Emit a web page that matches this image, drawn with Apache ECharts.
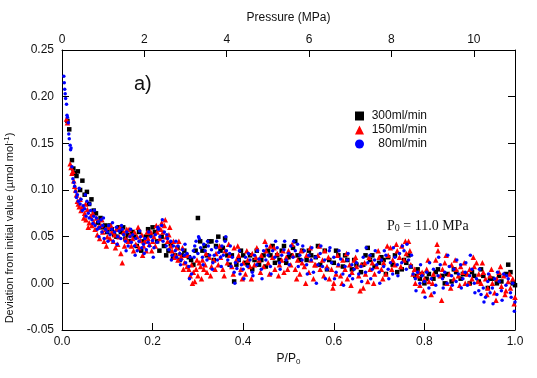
<!DOCTYPE html>
<html><head><meta charset="utf-8">
<script src="https://cdn.jsdelivr.net/npm/echarts@6/dist/echarts.min.js"></script>
<style>html,body{margin:0;padding:0;background:#fff}#c{width:537px;height:378px}</style>
</head><body><div id="c"></div>
<script>
const seriesNames = ['300ml/min', '150ml/min', '80ml/min'];
const xTicks = [0.0, 0.2, 0.4, 0.6, 0.8, 1.0];
const pressureTicks = [0, 2, 4, 6, 8, 10];
const yTicks = [-0.05, 0.00, 0.05, 0.10, 0.15, 0.20, 0.25];

const data300 = [[0.012,0.174],[0.016,0.165],[0.022,0.132],[0.025,0.123],[0.028,0.118],[0.032,0.115],[0.035,0.12],[0.04,0.1],[0.045,0.11],[0.05,0.095],[0.055,0.098],[0.06,0.085],[0.065,0.09],[0.07,0.078],[0.075,0.075],[0.08,0.065],[0.085,0.07],[0.09,0.06],[0.095,0.062],[0.1,0.055],[0.11,0.058],[0.115,0.052],[0.12,0.05],[0.125,0.06],[0.13,0.055],[0.14,0.048],[0.145,0.052],[0.15,0.045],[0.16,0.05],[0.165,0.04],[0.17,0.055],[0.18,0.045],[0.19,0.058],[0.195,0.052],[0.2,0.06],[0.21,0.045],[0.215,0.035],[0.22,0.05],[0.23,0.03],[0.24,0.042],[0.25,0.03],[0.26,0.025],[0.27,0.035],[0.28,0.028],[0.29,0.02],[0.3,0.07],[0.305,0.045],[0.31,0.035],[0.315,0.04],[0.32,0.03],[0.33,0.045],[0.34,0.04],[0.345,0.05],[0.35,0.035],[0.355,0.038],[0.36,0.048],[0.37,0.02],[0.375,0.03],[0.38,0.002],[0.39,0.025],[0.4,0.03],[0.41,0.02],[0.42,0.015],[0.43,0.035],[0.44,0.025],[0.45,0.018],[0.46,0.03],[0.47,0.022],[0.48,0.025],[0.49,0.04],[0.5,0.028],[0.51,0.038],[0.52,0.03],[0.53,0.035],[0.54,0.025],[0.55,0.03],[0.56,0.028],[0.57,0.02],[0.58,0.035],[0.59,0.025],[0.6,0.022],[0.61,0.03],[0.62,0.018],[0.63,0.025],[0.64,0.015],[0.65,0.02],[0.66,0.012],[0.67,0.03],[0.68,0.025],[0.69,0.018],[0.7,0.022],[0.71,0.025],[0.72,0.028],[0.73,0.02],[0.74,0.012],[0.75,0.015],[0.76,0.022],[0.77,0.018],[0.78,0.008],[0.79,0.005],[0.8,0.0],[0.81,0.01],[0.82,0.005],[0.83,0.015],[0.84,0.008],[0.85,0.01],[0.86,0.002],[0.87,0.012],[0.88,0.005],[0.89,0.01],[0.9,0.0],[0.91,0.008],[0.92,0.002],[0.93,0.008],[0.94,-0.005],[0.95,0.005],[0.96,0.0],[0.97,0.002],[0.98,0.01],[0.99,0.012],[1.0,-0.002],
[0.105,0.062],[0.135,0.06],[0.155,0.055],[0.175,0.035],[0.185,0.05],[0.205,0.055],[0.225,0.04],[0.235,0.035],[0.245,0.028],[0.255,0.038],[0.265,0.03],[0.285,0.025],[0.295,0.035],[0.325,0.045],[0.335,0.025],[0.365,0.03],[0.385,0.02],[0.395,0.035],[0.405,0.022],[0.415,0.03],[0.425,0.025],[0.435,0.02],[0.445,0.03],[0.455,0.035],[0.465,0.04],[0.475,0.03],[0.485,0.035],[0.495,0.022],[0.505,0.03],[0.515,0.045],[0.525,0.025],[0.545,0.035],[0.565,0.04],[0.585,0.015],[0.605,0.035],[0.625,0.03],[0.645,0.025],[0.665,0.02],[0.675,0.038],[0.685,0.03],[0.705,0.028],[0.715,0.01],[0.735,0.03],[0.755,0.025],[0.765,0.03],[0.785,0.015],[0.795,0.01],[0.805,0.005],[0.825,0.012],[0.845,0.0],[0.865,0.015],[0.885,0.01],[0.905,0.012],[0.925,0.015],[0.945,0.005],[0.965,0.008],[0.985,0.02],[0.995,0.0]];

const data150 = [[0.01,0.176],[0.012,0.172],[0.018,0.128],[0.02,0.124],[0.022,0.118],[0.024,0.12],[0.026,0.11],[0.028,0.104],[0.03,0.1],[0.032,0.095],[0.034,0.088],[0.036,0.085],[0.038,0.082],[0.04,0.09],[0.042,0.078],[0.045,0.082],[0.048,0.07],[0.05,0.075],[0.053,0.068],[0.056,0.079],[0.06,0.065],[0.063,0.072],[0.066,0.062],[0.07,0.066],[0.073,0.058],[0.076,0.07],[0.08,0.06],[0.083,0.048],[0.086,0.062],[0.09,0.055],[0.093,0.045],[0.096,0.058],[0.1,0.05],[0.103,0.06],[0.106,0.048],[0.11,0.055],[0.113,0.045],[0.116,0.052],[0.12,0.058],[0.123,0.042],[0.126,0.05],[0.13,0.032],[0.133,0.022],[0.136,0.055],[0.14,0.048],[0.143,0.058],[0.146,0.045],[0.15,0.052],[0.153,0.04],[0.156,0.048],[0.16,0.055],[0.163,0.042],[0.166,0.05],[0.17,0.038],[0.173,0.046],[0.176,0.052],[0.18,0.04],[0.183,0.045],[0.186,0.035],[0.19,0.048],[0.193,0.042],[0.196,0.055],[0.2,0.045],[0.203,0.05],[0.206,0.04],[0.21,0.055],[0.213,0.06],[0.216,0.048],[0.22,0.065],[0.223,0.055],[0.226,0.062],[0.23,0.05],[0.233,0.045],[0.236,0.052],[0.24,0.04],[0.243,0.035],[0.246,0.045],[0.25,0.03],[0.253,0.038],[0.256,0.025],[0.26,0.032],[0.263,0.028],[0.266,0.038],[0.27,0.022],[0.273,0.03],[0.276,0.018],[0.28,0.015],[0.283,0.008],[0.286,0.02],[0.29,0.012],[0.293,0.002],[0.296,0.015],[0.3,0.008],[0.303,0.022],[0.306,0.018],[0.31,0.025],[0.313,0.015],[0.316,0.02],[0.32,0.012],[0.325,0.028],[0.33,0.018],[0.335,0.025],[0.34,0.032],[0.345,0.02],[0.35,0.028],[0.355,0.015],[0.36,0.035],[0.365,0.022],[0.37,0.03],[0.375,0.018],[0.38,0.038],[0.385,0.025],[0.39,0.03],[0.395,0.015],[0.4,0.022],[0.405,0.01],[0.41,0.025],[0.415,0.018],[0.42,0.032],[0.425,0.02],[0.43,0.038],[0.435,0.025],[0.44,0.03],[0.445,0.018],[0.45,0.035],[0.455,0.022],[0.46,0.04],[0.465,0.028],[0.47,0.015],[0.475,0.032],[0.48,0.02],[0.485,0.025],[0.49,0.012],[0.495,0.028],[0.5,0.035],[0.505,0.02],[0.51,0.03],[0.515,0.015],[0.52,0.025],[0.525,0.01],[0.53,0.022],[0.535,0.018],[0.54,0.03],[0.545,0.012],[0.55,0.025],[0.555,0.005],[0.56,0.02],[0.565,0.03],[0.57,0.015],[0.575,0.025],[0.58,0.035],[0.585,0.018],[0.59,0.005],[0.595,0.015],[0.6,0.0],[0.605,0.01],[0.61,0.02],[0.615,0.008],[0.62,0.025],[0.625,0.015],[0.63,0.005],[0.635,0.02],[0.64,0.012],[0.645,0.025],[0.65,0.018],[0.655,0.008],[0.66,0.02],[0.665,-0.005],[0.67,0.01],[0.675,0.002],[0.68,0.015],[0.685,0.022],[0.69,0.01],[0.695,0.018],[0.7,0.028],[0.705,0.015],[0.71,0.022],[0.715,0.01],[0.72,0.03],[0.725,0.038],[0.73,0.025],[0.735,0.02],[0.74,0.035],[0.745,0.028],[0.75,0.04],[0.755,0.025],[0.76,0.032],[0.765,0.045],[0.77,0.02],[0.775,0.01],[0.78,0.0],[0.785,0.008],[0.79,-0.002],[0.795,0.012],[0.8,0.005],[0.805,0.015],[0.81,0.002],[0.815,-0.012],[0.82,0.01],[0.825,0.025],[0.83,0.035],[0.835,0.008],[0.84,0.015],[0.845,0.022],[0.85,0.0],[0.855,0.01],[0.86,0.02],[0.865,0.005],[0.87,0.015],[0.875,0.008],[0.88,0.018],[0.885,0.012],[0.89,0.0],[0.895,0.01],[0.9,0.015],[0.905,0.005],[0.91,0.018],[0.915,0.022],[0.92,0.01],[0.925,0.0],[0.93,0.012],[0.935,0.005],[0.94,-0.005],[0.945,0.008],[0.95,0.0],[0.955,-0.01],[0.96,0.005],[0.965,0.012],[0.97,-0.003],[0.975,0.008],[0.98,-0.008],[0.985,0.002],[0.99,-0.005],[0.995,0.005],[1.0,-0.015],
[0.052,0.085],[0.058,0.06],[0.068,0.075],[0.078,0.052],[0.088,0.068],[0.098,0.04],[0.108,0.062],[0.118,0.038],[0.128,0.06],[0.138,0.04],[0.148,0.058],[0.158,0.035],[0.168,0.06],[0.178,0.03],[0.188,0.055],[0.198,0.035],[0.208,0.062],[0.218,0.058],[0.228,0.068],[0.238,0.06],[0.248,0.028],[0.258,0.045],[0.268,0.015],[0.278,0.03],[0.288,0.0],[0.298,0.025],[0.308,0.005],[0.318,0.032],[0.328,0.008],[0.338,0.015],[0.348,0.04],[0.358,0.008],[0.368,0.042],[0.378,0.01],[0.388,0.04],[0.398,0.005],[0.408,0.035],[0.418,0.005],[0.428,0.028],[0.438,0.012],[0.448,0.045],[0.458,0.01],[0.468,0.038],[0.478,0.008],[0.488,0.035],[0.498,0.015],[0.508,0.042],[0.518,0.005],[0.528,0.035],[0.538,0.0],[0.548,0.038],[0.558,0.02],[0.568,0.04],[0.578,0.008],[0.588,0.028],[0.598,-0.005],[0.608,0.03],[0.618,0.0],[0.628,0.032],[0.638,-0.002],[0.648,0.028],[0.658,-0.008],[0.668,0.022],[0.678,0.028],[0.688,0.0],[0.698,0.035],[0.708,0.005],[0.718,0.04],[0.728,0.015],[0.738,0.042],[0.748,0.018],[0.758,0.045],[0.768,0.035],[0.778,0.015],[0.788,0.012],[0.798,-0.008],[0.808,0.025],[0.818,0.0],[0.828,0.042],[0.838,-0.018],[0.848,0.03],[0.858,-0.005],[0.868,0.025],[0.878,-0.002],[0.888,0.022],[0.898,0.0],[0.908,0.028],[0.918,0.002],[0.928,0.022],[0.938,-0.012],[0.948,0.015],[0.958,-0.018],[0.968,0.018],[0.978,-0.012],[0.988,0.01],[0.998,-0.022]];

const data80 = [[0.004,0.222],[0.005,0.215],[0.006,0.208],[0.007,0.203],[0.008,0.198],[0.010,0.192],[0.011,0.180],[0.012,0.178],[0.014,0.172],[0.015,0.16],[0.016,0.155],[0.018,0.148],[0.019,0.143],[0.020,0.145],[0.022,0.125],[0.024,0.112],[0.026,0.108],[0.028,0.104],[0.030,0.098],[0.032,0.092],[0.034,0.095],[0.036,0.088],[0.038,0.102],[0.040,0.085],[0.042,0.09],[0.045,0.078],[0.047,0.083],[0.050,0.08],[0.053,0.072],[0.055,0.088],[0.058,0.075],[0.060,0.07],[0.063,0.078],[0.066,0.068],[0.068,0.064],[0.07,0.072],[0.073,0.062],[0.076,0.07],[0.078,0.058],[0.08,0.066],[0.083,0.06],[0.086,0.068],[0.088,0.055],[0.09,0.062],[0.093,0.048],[0.096,0.058],[0.1,0.055],[0.103,0.062],[0.106,0.052],[0.11,0.058],[0.113,0.045],[0.116,0.055],[0.12,0.06],[0.123,0.05],[0.126,0.056],[0.13,0.048],[0.133,0.058],[0.136,0.052],[0.14,0.045],[0.143,0.055],[0.146,0.04],[0.15,0.05],[0.153,0.044],[0.156,0.052],[0.16,0.04],[0.163,0.048],[0.166,0.035],[0.17,0.045],[0.173,0.05],[0.176,0.038],[0.18,0.042],[0.183,0.048],[0.186,0.036],[0.19,0.044],[0.193,0.04],[0.196,0.05],[0.2,0.046],[0.203,0.038],[0.206,0.052],[0.21,0.044],[0.213,0.058],[0.216,0.05],[0.22,0.062],[0.223,0.045],[0.226,0.055],[0.23,0.04],[0.233,0.048],[0.236,0.036],[0.24,0.045],[0.243,0.03],[0.246,0.04],[0.25,0.035],[0.253,0.028],[0.256,0.04],[0.26,0.032],[0.263,0.025],[0.266,0.036],[0.27,0.03],[0.273,0.022],[0.276,0.032],[0.28,0.018],[0.283,0.028],[0.286,0.01],[0.29,0.035],[0.293,0.04],[0.296,0.045],[0.3,0.032],[0.303,0.048],[0.306,0.038],[0.31,0.028],[0.313,0.042],[0.316,0.035],[0.32,0.025],[0.323,0.04],[0.326,0.03],[0.33,0.036],[0.333,0.022],[0.336,0.03],[0.34,0.038],[0.343,0.025],[0.346,0.033],[0.35,0.028],[0.353,0.04],[0.356,0.03],[0.36,0.045],[0.363,0.035],[0.366,0.025],[0.37,0.032],[0.373,0.018],[0.376,0.028],[0.38,0.012],[0.383,0.022],[0.386,0.016],[0.39,0.025],[0.393,0.01],[0.396,0.02],[0.4,0.015],[0.405,0.028],[0.41,0.018],[0.415,0.025],[0.42,0.012],[0.425,0.03],[0.43,0.02],[0.435,0.026],[0.44,0.015],[0.445,0.035],[0.45,0.025],[0.455,0.03],[0.46,0.018],[0.465,0.035],[0.47,0.028],[0.475,0.038],[0.48,0.022],[0.485,0.03],[0.49,0.036],[0.495,0.025],[0.5,0.032],[0.505,0.04],[0.51,0.028],[0.515,0.035],[0.52,0.042],[0.525,0.03],[0.53,0.025],[0.535,0.035],[0.54,0.02],[0.545,0.03],[0.55,0.025],[0.555,0.012],[0.56,0.028],[0.565,0.02],[0.57,0.032],[0.575,0.018],[0.58,0.025],[0.585,0.015],[0.59,0.035],[0.595,0.022],[0.6,0.028],[0.605,0.012],[0.61,0.02],[0.615,0.026],[0.62,0.01],[0.625,0.018],[0.63,0.025],[0.635,0.008],[0.64,0.02],[0.645,0.015],[0.65,0.022],[0.655,0.01],[0.66,0.018],[0.665,0.028],[0.67,0.012],[0.675,0.022],[0.68,0.03],[0.685,0.015],[0.69,0.025],[0.695,0.02],[0.7,0.012],[0.705,0.025],[0.71,0.018],[0.715,0.03],[0.72,0.015],[0.725,0.022],[0.73,0.01],[0.735,0.028],[0.74,0.02],[0.745,0.032],[0.75,0.022],[0.755,0.035],[0.76,0.015],[0.765,0.025],[0.77,0.018],[0.775,0.01],[0.78,0.005],[0.785,0.012],[0.79,0.0],[0.795,0.008],[0.8,0.002],[0.805,0.012],[0.81,-0.005],[0.815,0.005],[0.82,0.015],[0.825,-0.002],[0.83,0.008],[0.835,0.02],[0.84,0.005],[0.845,0.012],[0.85,0.0],[0.855,0.018],[0.86,0.008],[0.865,0.015],[0.87,0.002],[0.875,0.01],[0.88,0.02],[0.885,0.005],[0.89,0.012],[0.895,-0.002],[0.9,0.008],[0.905,0.015],[0.91,0.0],[0.915,0.005],[0.92,-0.008],[0.925,-0.012],[0.93,-0.005],[0.935,-0.015],[0.94,0.002],[0.945,-0.01],[0.95,-0.005],[0.955,0.005],[0.96,-0.012],[0.965,0.002],[0.97,-0.008],[0.975,0.01],[0.98,-0.002],[0.985,0.005],[0.99,-0.01],[0.995,0.0],[1.0,-0.02],
[0.0515,0.095],[0.0615,0.085],[0.0715,0.078],[0.0815,0.05],[0.0915,0.07],[0.1015,0.045],[0.1115,0.065],[0.1215,0.042],[0.1315,0.062],[0.1415,0.035],[0.1515,0.058],[0.1615,0.03],[0.1715,0.056],[0.1815,0.032],[0.1915,0.055],[0.2015,0.028],[0.2115,0.06],[0.2215,0.068],[0.2315,0.052],[0.2415,0.025],[0.2515,0.045],[0.2615,0.02],[0.2715,0.042],[0.2815,0.005],[0.2915,0.028],[0.3015,0.05],[0.3115,0.02],[0.3215,0.045],[0.3315,0.015],[0.3415,0.045],[0.3515,0.018],[0.3615,0.05],[0.3715,0.04],[0.3815,0.0],[0.3915,0.035],[0.4015,0.005],[0.4115,0.032],[0.4215,0.008],[0.4315,0.035],[0.4415,0.005],[0.4515,0.04],[0.4615,0.01],[0.4715,0.045],[0.4815,0.015],[0.4915,0.045],[0.5015,0.02],[0.5115,0.045],[0.5215,0.018],[0.5315,0.04],[0.5415,0.01],[0.5515,0.038],[0.5615,0.0],[0.5715,0.04],[0.5815,0.005],[0.5915,0.038],[0.6015,0.005],[0.6115,0.035],[0.6215,-0.002],[0.6315,0.032],[0.6415,0.005],[0.6515,0.035],[0.6615,0.002],[0.6715,0.038],[0.6815,0.005],[0.6915,0.035],[0.7015,0.0],[0.7115,0.035],[0.7215,0.005],[0.7315,0.038],[0.7415,0.008],[0.7515,0.04],[0.7615,0.042],[0.7715,0.03],[0.7815,-0.008],[0.7915,0.02],[0.8015,-0.015],[0.8115,0.022],[0.8215,-0.01],[0.8315,0.028],[0.8415,-0.005],[0.8515,0.03],[0.8615,-0.002],[0.8715,0.025],[0.8815,-0.005],[0.8915,0.022],[0.9015,0.03],[0.9115,-0.01],[0.9215,0.015],[0.9315,-0.02],[0.9415,0.01],[0.9515,-0.022],[0.9615,0.012],[0.9715,-0.018],[0.9815,0.008],[0.9915,-0.015],[0.9985,-0.03]];

const FONT = 'Liberation Sans, Arial, sans-serif';
const chart = echarts.init(document.getElementById('c'), null, {renderer: 'canvas'});
const axisCommon = {
  axisLine: {show: true, onZero: false, lineStyle: {color: '#000', width: 1}},
  axisTick: {show: true, inside: true, length: 7, lineStyle: {color: '#000'}},
  splitLine: {show: false},
  axisLabel: {color: '#111', fontFamily: FONT, fontSize: 12}
};
chart.setOption({
  animation: false,
  grid: {left: 62, right: 22, top: 50, bottom: 48, containLabel: false, outerBoundsMode: 'none'},
  xAxis: [
    Object.assign({}, axisCommon, {
      type: 'value', position: 'bottom', min: xTicks[0], max: xTicks[xTicks.length-1], interval: 0.2,
      axisLabel: Object.assign({}, axisCommon.axisLabel, {margin: 6, formatter: v => v.toFixed(1)}),
      name: '{a|P/P}{s|0}', nameLocation: 'middle', nameGap: 22,
      nameTextStyle: {rich: {a: {fontFamily: FONT, fontSize: 12, color: '#111'}, s: {fontFamily: FONT, fontSize: 8, color: '#111', verticalAlign: 'bottom', padding: [6,0,0,0]}}}
    }),
    Object.assign({}, axisCommon, {
      type: 'value', position: 'top', min: 0, max: 11, interval: 2,
      axisLabel: Object.assign({}, axisCommon.axisLabel, {margin: 4, showMaxLabel: false}),
      name: 'Pressure (MPa)', nameLocation: 'middle', nameGap: 26,
      nameTextStyle: {fontFamily: FONT, fontSize: 12, color: '#111'}
    })
  ],
  yAxis: [
    Object.assign({}, axisCommon, {
      type: 'value', min: yTicks[0], max: yTicks[yTicks.length-1], interval: 0.05,
      axisLabel: Object.assign({}, axisCommon.axisLabel, {margin: 8, formatter: v => v.toFixed(2)}),
      name: '{a|Deviation from initial value (µmol mol}{s|-1}{a|)}', nameLocation: 'middle', nameGap: 37,
      nameTextStyle: {padding: [0, 76, 0, 0], rich: {a: {fontFamily: FONT, fontSize: 11, color: '#111'}, s: {fontFamily: FONT, fontSize: 8, color: '#111', verticalAlign: 'top', padding: [0,0,6,0]}}}
    }),
    Object.assign({}, axisCommon, {
      type: 'value', position: 'right', min: yTicks[0], max: yTicks[yTicks.length-1], interval: 0.05,
      axisLabel: {show: false}
    })
  ],
  legend: {
    orient: 'vertical', left: 350, top: 105, itemWidth: 9, itemHeight: 9, itemGap: 2,
    formatter: n => '{r|' + n + '}',
    textStyle: {fontFamily: FONT, fontSize: 12, color: '#111', rich: {r: {width: 58, align: 'right', fontFamily: FONT, fontSize: 12, color: '#111'}}},
    data: [
      {name: seriesNames[0], icon: 'rect'},
      {name: seriesNames[1], icon: 'triangle'},
      {name: seriesNames[2], icon: 'circle'}
    ]
  },
  graphic: [
    {type: 'text', left: 134, top: 74, style: {text: 'a)', font: '20px ' + FONT, fill: '#111'}},
    {type: 'text', left: 387, top: 219, style: {text: '{a|P}{s|0}{a| = 11.0 MPa}', rich: {a: {font: '14px "Liberation Serif", "Times New Roman", serif', fill: '#111'}, s: {font: '10px "Liberation Serif", serif', fill: '#111', padding: [4,0,0,0]}}}}
  ],
  series: [
    {name: seriesNames[0], type: 'scatter', data: data300, symbol: 'rect', symbolSize: 4.5, itemStyle: {color: '#000', opacity: 1}},
    {name: seriesNames[1], type: 'scatter', data: data150, symbol: 'triangle', symbolSize: 5.5, itemStyle: {color: '#ff0000', opacity: 1}},
    {name: seriesNames[2], type: 'scatter', data: data80, symbol: 'circle', symbolSize: 3.5, itemStyle: {color: '#0000ff', opacity: 1}}
  ]
});
</script></body></html>
